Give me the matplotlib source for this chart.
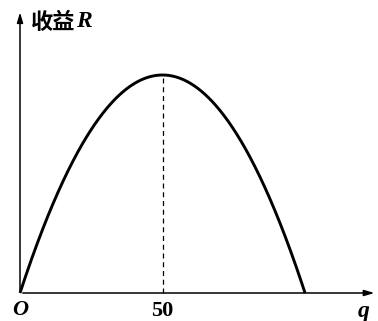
import numpy as np
import matplotlib
matplotlib.use("Agg")
import matplotlib.pyplot as plt

# data
q_max = 100
q_peak = 50
q = np.linspace(0, q_max, 400)
R = q * (q_max - q)
R_peak = q_peak * (q_max - q_peak)
tick_labels = ["O", "50", "q"]

fig = plt.figure(figsize=(3.78, 3.21), dpi=100)
ax = fig.add_axes([0, 0, 1, 1])
ax.set_xlim(-7.02, 125.6)
ax.set_ylim(-321.1, 3360)
ax.axis("off")

ax.plot(q, R, color="black", lw=2.1, solid_capstyle="butt")
ax.plot([q_peak, q_peak], [0, R_peak], color="black", lw=0.9, ls=(0, (4, 3)))

# axes with arrows
ax.annotate("", xy=(125.3, 0), xytext=(0, 0),
            arrowprops=dict(arrowstyle="-|>,head_length=0.6,head_width=0.18", color="black", lw=1.1))
ax.annotate("", xy=(0, 3250), xytext=(0, 0),
            arrowprops=dict(arrowstyle="-|>,head_length=0.6,head_width=0.18", color="black", lw=1.1))

ax.text(4.0, 3100, "收益", family=["Noto Sans CJK SC", "DejaVu Sans"], fontweight="bold",
        fontsize=16, ha="left", va="center")
ax.text(19.8, 3110, "R", family="Liberation Serif", style="italic", fontweight="bold",
        fontsize=17, ha="left", va="center")
ax.text(0, -200, tick_labels[0], family="Liberation Serif", style="italic", fontweight="bold",
        fontsize=16, ha="center", va="center")
ax.text(q_peak, -210, tick_labels[1], family="Liberation Serif", fontweight="bold",
        fontsize=16, ha="center", va="center")
ax.text(120.5, -215, tick_labels[2], family="Liberation Serif", style="italic", fontweight="bold",
        fontsize=17, ha="center", va="center")

fig.savefig("out.png", dpi=100)
